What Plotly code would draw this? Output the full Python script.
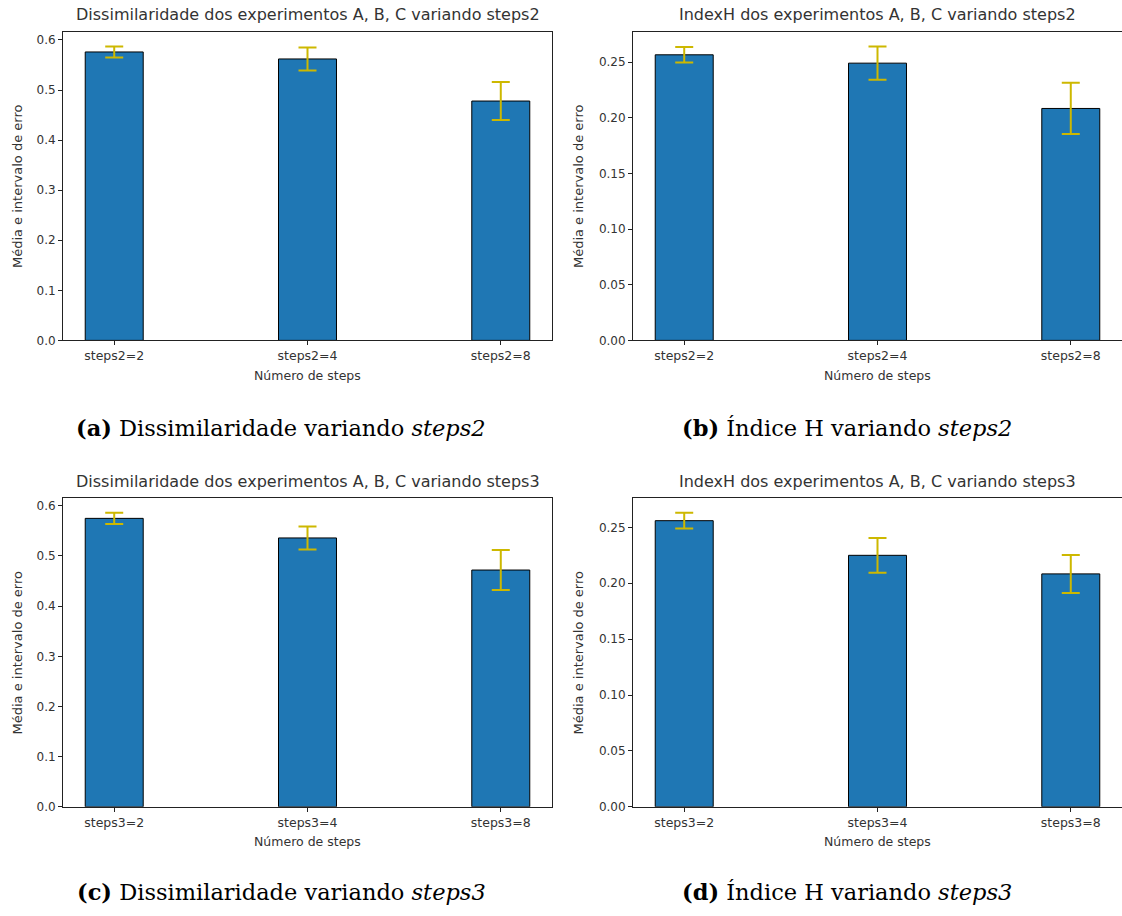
import plotly.graph_objects as go

W, H = 1122, 916

# ---- data ----
cats2 = ["steps2=2", "steps2=4", "steps2=8"]
cats3 = ["steps3=2", "steps3=4", "steps3=8"]
x_pos = [0, 1, 2]

dis2_mean = [0.576, 0.562, 0.478]
dis2_err = [0.011, 0.023, 0.038]
idx2_mean = [0.2565, 0.249, 0.2083]
idx2_err = [0.007, 0.015, 0.023]
dis3_mean = [0.575, 0.536, 0.472]
dis3_err = [0.011, 0.023, 0.040]
idx3_mean = [0.256, 0.225, 0.2084]
idx3_err = [0.007, 0.0155, 0.017]

titles = [
    "Dissimilaridade dos experimentos A, B, C variando steps2",
    "IndexH dos experimentos A, B, C variando steps2",
    "Dissimilaridade dos experimentos A, B, C variando steps3",
    "IndexH dos experimentos A, B, C variando steps3",
]
captions = [
    "<b>(a)</b> Dissimilaridade variando <i>steps2</i>",
    "<b>(b)</b> Índice H variando <i>steps2</i>",
    "<b>(c)</b> Dissimilaridade variando <i>steps3</i>",
    "<b>(d)</b> Índice H variando <i>steps3</i>",
]
ylabel = "Média e intervalo de erro"
xlabel = "Número de steps"

# ---- layout geometry (pixels) ----
panels = [
    dict(m=dis2_mean, e=dis2_err, cats=cats2, box=(63, 32, 552, 343), dtick=0.1, fmt=".1f", mirror=True, ylx=17),
    dict(m=idx2_mean, e=idx2_err, cats=cats2, box=(633, 32, 1122, 343), dtick=0.05, fmt=".2f", mirror=False, ylx=578),
    dict(m=dis3_mean, e=dis3_err, cats=cats3, box=(63, 502, 552, 813), dtick=0.1, fmt=".1f", mirror=True, ylx=17),
    dict(m=idx3_mean, e=idx3_err, cats=cats3, box=(633, 502, 1122, 813), dtick=0.05, fmt=".2f", mirror=False, ylx=578),
]
cap_pos = [(281, 431), (847, 431), (281, 899), (847, 899)]

BAR = "#1f77b4"
ERR = "#cdb800"
AX = "#222222"
TXT = "#333333"
FONT = "DejaVu Sans"

fig = go.Figure()
annotations = []
layout = {}

for i, p in enumerate(panels):
    n = "" if i == 0 else str(i + 1)
    l, t, r, b = p["box"]
    fig.add_trace(go.Bar(
        x=x_pos, y=p["m"], width=0.3,
        marker=dict(color=BAR, line=dict(color="black", width=1)),
        error_y=dict(type="data", array=p["e"], color=ERR, thickness=2, width=9),
        xaxis="x" + n, yaxis="y" + n, showlegend=False,
    ))
    px_per_unit = 489 / 2.53
    xr = [-0.265, -0.265 + (r - l) / px_per_unit]
    ytop = max(a + c for a, c in zip(p["m"], p["e"])) * 1.05
    layout["xaxis" + n] = dict(
        domain=[l / W, r / W], anchor="y" + n, range=xr,
        tickvals=x_pos, ticktext=p["cats"], showgrid=False, zeroline=False,
        showline=True, linecolor=AX, linewidth=1, mirror=True,
        ticks="outside", ticklen=4, tickcolor=AX,
        tickfont=dict(family=FONT, size=12.5, color=TXT),
    )
    layout["yaxis" + n] = dict(
        domain=[1 - b / H, 1 - t / H], anchor="x" + n, range=[0, ytop],
        dtick=p["dtick"], tick0=0, tickformat=p["fmt"], showgrid=False, zeroline=False,
        showline=True, linecolor=AX, linewidth=1, mirror=p["mirror"],
        ticks="outside", ticklen=4, tickcolor=AX,
        tickfont=dict(family=FONT, size=12, color=TXT),
    )
    cxp = (l + (l + 489)) / 2
    # title
    annotations.append(dict(
        text=titles[i], x=cxp / W, y=1 - (t - 17) / H,
        xref="paper", yref="paper", xanchor="center", yanchor="middle",
        showarrow=False, font=dict(family=FONT, size=16, color=TXT),
    ))
    # x label
    annotations.append(dict(
        text=xlabel, x=cxp / W, y=1 - (b + 35) / H,
        xref="paper", yref="paper", xanchor="center", yanchor="middle",
        showarrow=False, font=dict(family=FONT, size=12.5, color=TXT),
    ))
    # y label
    annotations.append(dict(
        text=ylabel, x=p["ylx"] / W, y=1 - ((t + b) / 2) / H, textangle=-90,
        xref="paper", yref="paper", xanchor="center", yanchor="middle",
        showarrow=False, font=dict(family=FONT, size=13, color=TXT),
    ))
    # caption
    cx, cy = cap_pos[i]
    annotations.append(dict(
        text=captions[i], x=cx / W, y=1 - cy / H,
        xref="paper", yref="paper", xanchor="center", yanchor="middle",
        showarrow=False, font=dict(family="DejaVu Serif", size=22.5, color="black"),
    ))

fig.update_layout(
    width=W, height=H, autosize=False, margin=dict(l=0, r=0, t=0, b=0),
    paper_bgcolor="white", plot_bgcolor="white",
    annotations=annotations, **layout,
)

fig.write_html(
    "out.html",
    config={"responsive": False},
    post_script="document.body.style.margin='0';document.body.style.overflow='hidden';"
                "document.documentElement.style.overflow='hidden';",
)
